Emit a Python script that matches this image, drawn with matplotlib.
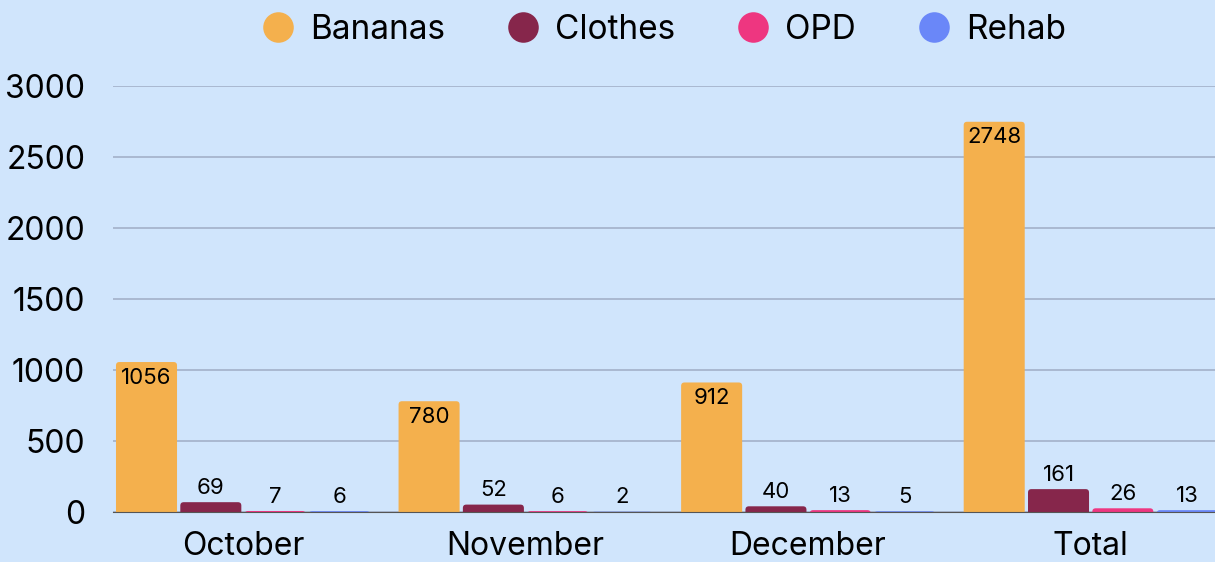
import numpy as np
import matplotlib
matplotlib.use("Agg")
import matplotlib.pyplot as plt
from matplotlib.lines import Line2D
from matplotlib.patches import FancyBboxPatch

plt.rcParams['font.family'] = ['Inter', 'DejaVu Sans']

categories = ["October", "November", "December", "Total"]
series = ["Bananas", "Clothes", "OPD", "Rehab"]
bananas = [1056, 780, 912, 2748]
clothes = [69, 52, 40, 161]
opd = [7, 6, 13, 26]
rehab = [6, 2, 5, 13]
values = [bananas, clothes, opd, rehab]
colors = ["#F4B04D", "#86264B", "#EE3680", "#6A87F8"]

bg = "#D0E5FC"


def main():
    fig = plt.figure(figsize=(12.15, 5.62), dpi=100, facecolor=bg)
    ax = fig.add_axes([0.093, 0.089, 0.907, 0.758])
    ax.set_facecolor(bg)

    x = np.arange(len(categories))
    step = 0.2276
    width = 0.216
    # y units per pixel over x units per pixel, for round corners
    aspect = (3000 / 426) / (3.9 / 1102)
    for i, (name, vals, c) in enumerate(zip(series, values, colors)):
        pos = x + (i - 1.5) * step
        bars = ax.bar(pos, vals, width, color=c, zorder=3)
        for b, v in zip(bars, vals):
            b.set_visible(False)
            # start below zero so the axes clip hides the bottom rounding
            r = FancyBboxPatch((b.get_x(), -60), b.get_width(), v + 60,
                               boxstyle="round,pad=0,rounding_size=0.012",
                               mutation_aspect=aspect,
                               facecolor=c, edgecolor="none", zorder=3)
            ax.add_patch(r)
            if i == 0:
                ax.text(b.get_x() + b.get_width() / 2, v - 40, str(v),
                        ha="center", va="top", fontsize=16, zorder=4)
            else:
                ax.text(b.get_x() + b.get_width() / 2, v + 30, str(v),
                        ha="center", va="bottom", fontsize=16, zorder=4)

    ax.set_ylim(0, 3000)
    ax.set_xlim(-0.46, 3.44)
    ax.set_yticks([0, 500, 1000, 1500, 2000, 2500, 3000])
    ax.set_xticks(x)
    ax.set_xticklabels(categories)
    ax.tick_params(axis="y", length=0, labelsize=23, pad=20)
    ax.tick_params(axis="x", length=0, labelsize=23, pad=14)
    ax.grid(axis="y", color="#A3B1C9", linewidth=1.2, zorder=0)
    for s in ["top", "right", "left"]:
        ax.spines[s].set_visible(False)
    ax.spines["bottom"].set_color("#555555")
    ax.spines["bottom"].set_zorder(5)

    handles = [Line2D([], [], marker="o", linestyle="none", markersize=22,
                      markerfacecolor=c, markeredgecolor="none") for c in colors]
    fig.legend(handles, series, loc="center", bbox_to_anchor=(0.542, 0.947),
               ncol=4, frameon=False, fontsize=24, handletextpad=0.15,
               columnspacing=1.55, handlelength=1.6)

    fig.savefig("out.png", dpi=100, facecolor=bg)


if __name__ == '__main__':
    main()
